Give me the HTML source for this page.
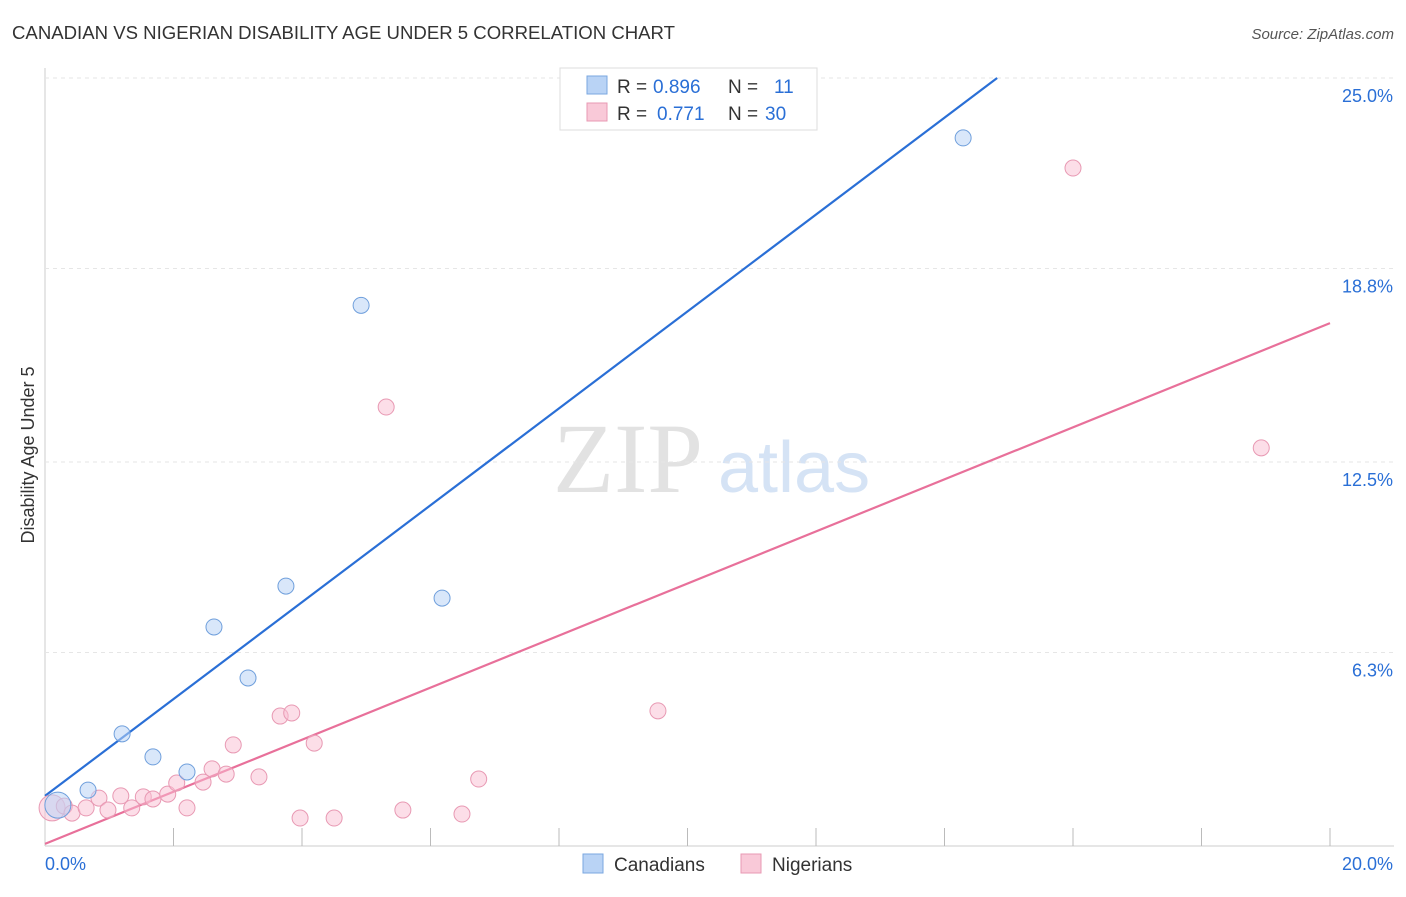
<!DOCTYPE html>
<html><head><meta charset="utf-8"><style>
body{margin:0;background:#fff;font-family:"Liberation Sans",sans-serif;}
</style></head><body>
<svg id="chart" width="1406" height="892" font-family="Liberation Sans, sans-serif">
<text x="12" y="39" font-size="18" fill="#333" textLength="663" lengthAdjust="spacingAndGlyphs">CANADIAN VS NIGERIAN DISABILITY AGE UNDER 5 CORRELATION CHART</text>
<text x="1394" y="39" font-size="15" fill="#555" font-style="italic" text-anchor="end">Source: ZipAtlas.com</text>
<text x="553" y="492" font-size="100" fill="#e2e2e2" style="font-family:'Liberation Serif',serif">ZIP</text>
<text x="718" y="492" font-size="72" fill="#d5e3f5">atlas</text>
<g id="grid"></g><g id="lines"></g><g id="pts"></g>
<text transform="translate(34,455) rotate(-90)" font-size="18" fill="#333" text-anchor="middle">Disability Age Under 5</text>
<g>
<rect x="560" y="68" width="257" height="62" fill="#fff" stroke="#ddd"/>
<rect x="587" y="76" width="20" height="18" fill="#b9d3f5" stroke="#7aa7e0"/>
<text x="617" y="93" font-size="19" fill="#333">R =</text>
<text x="653" y="93" font-size="19" fill="#2a6fd6">0.896</text>
<text x="728" y="93" font-size="19" fill="#333">N =</text>
<text x="774" y="93" font-size="19" fill="#2a6fd6">11</text>
<rect x="587" y="103" width="20" height="18" fill="#f9c9d8" stroke="#e899b3"/>
<text x="617" y="120" font-size="19" fill="#333">R =</text>
<text x="657" y="120" font-size="19" fill="#2a6fd6">0.771</text>
<text x="728" y="120" font-size="19" fill="#333">N =</text>
<text x="765" y="120" font-size="19" fill="#2a6fd6">30</text>
</g>
<g>
<rect x="583" y="854" width="20" height="19" fill="#b9d3f5" stroke="#7aa7e0"/>
<text x="614" y="871" font-size="19" fill="#333">Canadians</text>
<rect x="741" y="854" width="20" height="19" fill="#f9c9d8" stroke="#e899b3"/>
<text x="772" y="871" font-size="19" fill="#333">Nigerians</text>
</g>
</svg>
<script>
const yTicks=[6.3,12.5,18.8,25.0];
const xTickCount=10;
const canX=[0.2,0.67,1.2,1.68,2.21,2.63,3.16,3.75,4.92,6.18,14.29];
const canY=[1.33,1.82,3.65,2.9,2.41,7.13,5.47,8.46,17.6,8.07,23.05];
const nigX=[0.11,0.3,0.42,0.64,0.84,0.98,1.18,1.35,1.53,1.68,1.91,2.05,2.21,2.46,2.6,2.82,2.93,3.33,3.66,3.84,3.97,4.19,4.5,5.31,5.57,6.49,6.75,9.54,16.0,18.93];
const nigY=[1.24,1.3,1.07,1.24,1.56,1.17,1.63,1.24,1.6,1.53,1.69,2.05,1.24,2.08,2.51,2.34,3.29,2.25,4.23,4.33,0.91,3.35,0.91,14.29,1.17,1.04,2.18,4.4,22.07,12.96];
const canLine=[1.63,1.577];
const nigLine=[0.07,0.8475];
const X=v=>45+v*64.25, Y=v=>846-v*30.72;
const NS='http://www.w3.org/2000/svg';
function mk(p,t,a){const e=document.createElementNS(NS,t);for(const k in a)e.setAttribute(k,a[k]);p.appendChild(e);return e;}
const g=document.getElementById('grid');
const ax=mk(g,'line',{x1:45,y1:68,x2:45,y2:846,stroke:'#ccc'});


const bx=mk(g,'line',{x1:45,y1:846,x2:1394,y2:846,stroke:'#ccc'});


yTicks.forEach(t=>{const l=mk(g,'line',{x1:45,x2:1394,y1:Y(t),y2:Y(t),stroke:'#e6e6e6','stroke-dasharray':'4,4'});


const tx=mk(g,'text',{x:1393,y:Y(t)+24,'font-size':18,fill:'#2a6fd6','text-anchor':'end'});tx.textContent=t.toFixed(1)+'%';

});
for(let i=1;i<=xTickCount;i++){const l=mk(g,'line',{x1:X(i*2),x2:X(i*2),y1:828,y2:846,stroke:'#bbb'});

}
const x0=mk(g,'text',{x:45,y:870,'font-size':18,fill:'#2a6fd6'});x0.textContent='0.0%';


const x1=mk(g,'text',{x:1393,y:870,'font-size':18,fill:'#2a6fd6','text-anchor':'end'});x1.textContent='20.0%';


const L=document.getElementById('lines');
let xe=(25-canLine[0])/canLine[1];
const bl=mk(L,'line',{x1:X(0),y1:Y(canLine[0]),x2:X(xe),y2:Y(25),stroke:'#2a6fd6','stroke-width':2.2});


const pl=mk(L,'line',{x1:X(0),y1:Y(nigLine[0]),x2:X(20),y2:Y(nigLine[0]+20*nigLine[1]),stroke:'#e8709a','stroke-width':2.2});


const P=document.getElementById('pts');
nigX.forEach((v,i)=>{const c=mk(P,'circle',{cx:X(v),cy:Y(nigY[i]),r:i==0?13:8,fill:'rgba(249,190,210,0.5)',stroke:'#e899b3'});

});
canX.forEach((v,i)=>{const c=mk(P,'circle',{cx:X(v),cy:Y(canY[i]),r:i==0?13:8,fill:'rgba(185,211,245,0.55)',stroke:'#6f9fdc'});

});
</script>
</body></html>
